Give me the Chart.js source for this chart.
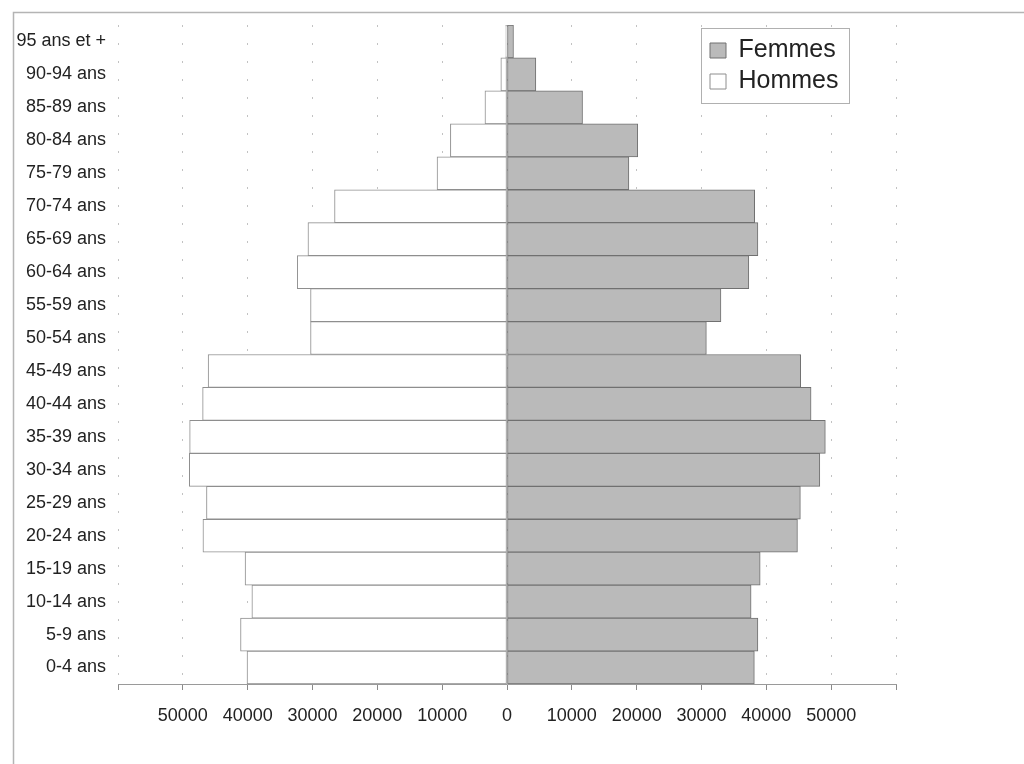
<!DOCTYPE html>
<html>
<head>
<meta charset="utf-8">
<script src="https://cdn.jsdelivr.net/npm/chart.js@4/dist/chart.umd.min.js"></script>
<style>
html,body{margin:0;padding:0;background:#fff;}
canvas{display:block;}
</style>
</head>
<body>
<canvas id="c" width="1024" height="764"></canvas>
<script>
// Age groups, top to bottom as displayed
const categories = ["95 ans et +","90-94 ans","85-89 ans","80-84 ans","75-79 ans","70-74 ans","65-69 ans","60-64 ans","55-59 ans","50-54 ans","45-49 ans","40-44 ans","35-39 ans","30-34 ans","25-29 ans","20-24 ans","15-19 ans","10-14 ans","5-9 ans","0-4 ans"];
const femmes = [1000,4450,11650,20170,18800,38200,38700,37300,33000,30750,45300,46900,49100,48250,45250,44800,39050,37650,38700,38150];
const hommes = [200,950,3400,8730,10790,26600,30700,32350,30300,30300,46100,46950,48950,49000,46350,46900,40400,39350,41100,40100];
const xMin = -60000, xMax = 60000, xStep = 10000;
const hiddenTickValues = [-60000, 60000];

Chart.defaults.font.family = "'Liberation Sans', Arial, sans-serif";

const framePlugin = {
  id: 'frame',
  beforeDraw(chart) {
    const ctx = chart.ctx;
    ctx.save();
    ctx.fillStyle = '#fff';
    ctx.fillRect(0, 0, chart.width, chart.height);
    ctx.strokeStyle = '#b4b4b4';
    ctx.lineWidth = 1.5;
    ctx.beginPath();
    ctx.moveTo(13.5, chart.height);
    ctx.lineTo(13.5, 12.5);
    ctx.lineTo(chart.width, 12.5);
    ctx.stroke();
    ctx.restore();
  }
};

const legendPlacer = {
  id: 'legendPlacer',
  afterUpdate(chart) {
    const lg = chart.legend, ca = chart.chartArea;
    const w = lg.width;
    lg.left = ca.right - 192;
    lg.right = lg.left + w;
    lg.top = ca.top + 7;
    lg.bottom = lg.top + 80;
    if (lg.adjustHitBoxes) lg.adjustHitBoxes();
  },
  afterDraw(chart) {
    const lg = chart.legend, ctx = chart.ctx;
    ctx.save();
    const x = lg.left - 3, y = lg.top - 4;
    ctx.fillStyle = '#fff';
    ctx.fillRect(x, y, 148, 75);
    ctx.strokeStyle = '#b0b0b0';
    ctx.lineWidth = 1;
    ctx.strokeRect(x + 0.5, y + 0.5, 148, 75);
    ctx.restore();
    lg.draw();
  }
};

new Chart(document.getElementById('c'), {
  type: 'bar',
  data: {
    labels: categories,
    datasets: [
      {
        label: 'Femmes',
        data: femmes,
        backgroundColor: '#bababa',
        borderColor: '#707070',
        borderWidth: 1,
        borderSkipped: false
      },
      {
        label: 'Hommes',
        data: hommes.map(v => -v),
        backgroundColor: '#ffffff',
        borderColor: '#8e8e8e',
        borderWidth: 1,
        borderSkipped: false
      }
    ]
  },
  options: {
    indexAxis: 'y',
    responsive: false,
    animation: false,
    layout: { padding: { top: 25, right: 128, bottom: 0, left: 0 } },
    datasets: { bar: { barPercentage: 1, categoryPercentage: 1 } },
    scales: {
      x: {
        stacked: true,
        min: xMin,
        max: xMax,
        afterFit(s) { s.height = 80; },
        ticks: {
          stepSize: xStep,
          autoSkip: false,
          maxRotation: 0,
          padding: 15,
          color: '#222',
          font: { size: 18 },
          callback: v => hiddenTickValues.includes(v) ? '' : String(Math.abs(v))
        },
        grid: {
          color: '#c2c2c2',
          lineWidth: 1,
          tickColor: '#8a8a8a',
          tickLength: 6,
          tickBorderDash: []
        },
        border: { display: true, color: '#9a9a9a', width: 1, dash: [2, 16] }
      },
      y: {
        stacked: true,
        afterFit(s) { s.width = 118; },
        ticks: {
          autoSkip: false,
          padding: 12,
          color: '#222',
          font: { size: 18 }
        },
        grid: { display: false, drawTicks: false },
        border: { display: false }
      }
    },
    plugins: {
      legend: {
        position: 'chartArea',
        align: 'start',
        labels: {
          boxWidth: 16,
          boxHeight: 15,
          padding: 6,
          color: '#222',
          font: { size: 25 }
        }
      },
      tooltip: { enabled: false }
    }
  },
  plugins: [framePlugin, legendPlacer]
});
</script>
</body>
</html>
